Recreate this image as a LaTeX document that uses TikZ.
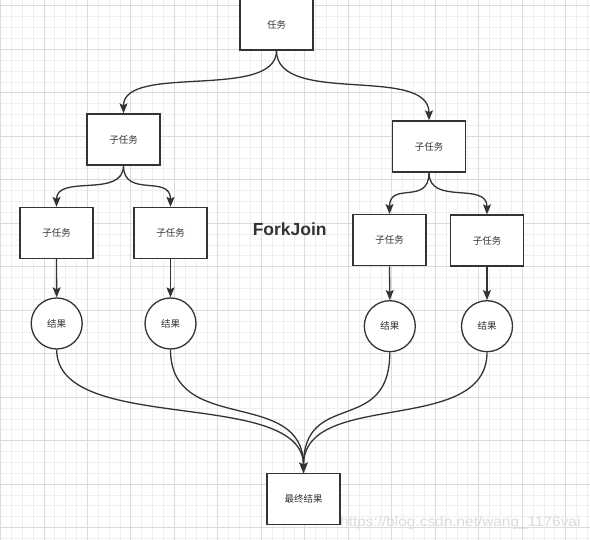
\documentclass[tikz,border=0pt]{standalone}
\usepackage{fontspec}
\setmainfont{Liberation Sans}
\newfontfamily\cjk{Noto Sans CJK SC}
\newfontfamily\wmfont{Liberation Sans}[FakeStretch=1.1]
\usetikzlibrary{arrows.meta,calc}
\definecolor{ink}{HTML}{333333}
\definecolor{gmin}{HTML}{EFEFEF}
\definecolor{gmaj}{HTML}{DCDCDC}
\definecolor{wm}{HTML}{DCDCDC}
\begin{document}
\begin{tikzpicture}[x=1pt,y=-1pt,
  box/.style={draw=ink, line width=1.3pt, fill=white, minimum width=73pt, minimum height=51pt, inner sep=0pt, font=\cjk\fontsize{9.5}{11}\selectfont, text=ink},
  res/.style={draw=ink, line width=1.3pt, fill=white, circle, minimum size=51pt, inner sep=0pt, font=\cjk\fontsize{9.5}{11}\selectfont, text=ink},
  arr/.style={draw=ink, line width=1.3pt, -{Stealth[length=10pt,width=8pt,inset=2pt]}},
  gridmin/.style={draw=gmin, line width=0.9pt},
  gridmaj/.style={draw=gmaj, line width=0.9pt},
]
\useasboundingbox (0,0) rectangle (590,540);
\clip (0,0) rectangle (590,540);
\fill[white] (0,0) rectangle (590,540);
% grid
\foreach \i in {0,...,54} \draw[gridmin] ({0.5+10.87*\i},0) -- ({0.5+10.87*\i},540);
\foreach \i in {0,...,49} \draw[gridmin] (0,{5.9+10.87*\i}) -- (590,{5.9+10.87*\i});
\foreach \i in {0,...,13} \draw[gridmaj] ({0.5+43.48*\i},0) -- ({0.5+43.48*\i},540);
\foreach \i in {0,...,12} \draw[gridmaj] (0,{5.9+43.48*\i}) -- (590,{5.9+43.48*\i});

% nodes
\node[box] (t)   at (276.5,24.5)  {任务};
\node[box] (s1)  at (123.5,139.5) {子任务};
\node[box] (s2)  at (429,146.5)   {子任务};
\node[box] (s11) at (56.5,233)    {子任务};
\node[box] (s12) at (170.5,233)   {子任务};
\node[box] (s21) at (389.5,240.2) {子任务};
\node[box] (s22) at (487,240.5)   {子任务};
\node[res] (c11) at (56.7,323.5)  {结果};
\node[res] (c12) at (170.5,323.5) {结果};
\node[res] (c21) at (389.8,326.2) {结果};
\node[res] (c22) at (487,326.2)   {结果};
\node[box] (f)   at (303.5,499)   {最终结果};

\node[font=\bfseries\fontsize{17.5}{20}\selectfont, text=ink] (title) at (289.7,229) {ForkJoin};

% fork edges
\foreach \a/\b in {t/s1, t/s2, s1/s11, s1/s12, s2/s21, s2/s22}
  \draw[arr] (\a.south) .. controls ($(\a.south)!0.8!(\a.south |- \b.north)$) and ($(\b.north)!0.8!(\b.north |- \a.south)$) .. (\b.north);
% straight edges
\foreach \a/\b in {s11/c11, s12/c12, s21/c21, s22/c22}
  \draw[arr] (\a.south) -- (\b.north);
% join edges
\foreach \a in {c11, c12, c21, c22}
  \draw[arr] (\a.south) .. controls ($(\a.south)!0.7!(\a.south |- f.north)$) and ($(f.north)!0.7!(f.north |- \a.south)$) .. (f.north);

% watermark
\node[anchor=west, inner sep=0pt, text=wm, font=\wmfont\fontsize{14}{16}\selectfont] (wmk) at (340,523) {https://blog.csdn.net/wang\_1176vai};
\end{tikzpicture}
\end{document}
